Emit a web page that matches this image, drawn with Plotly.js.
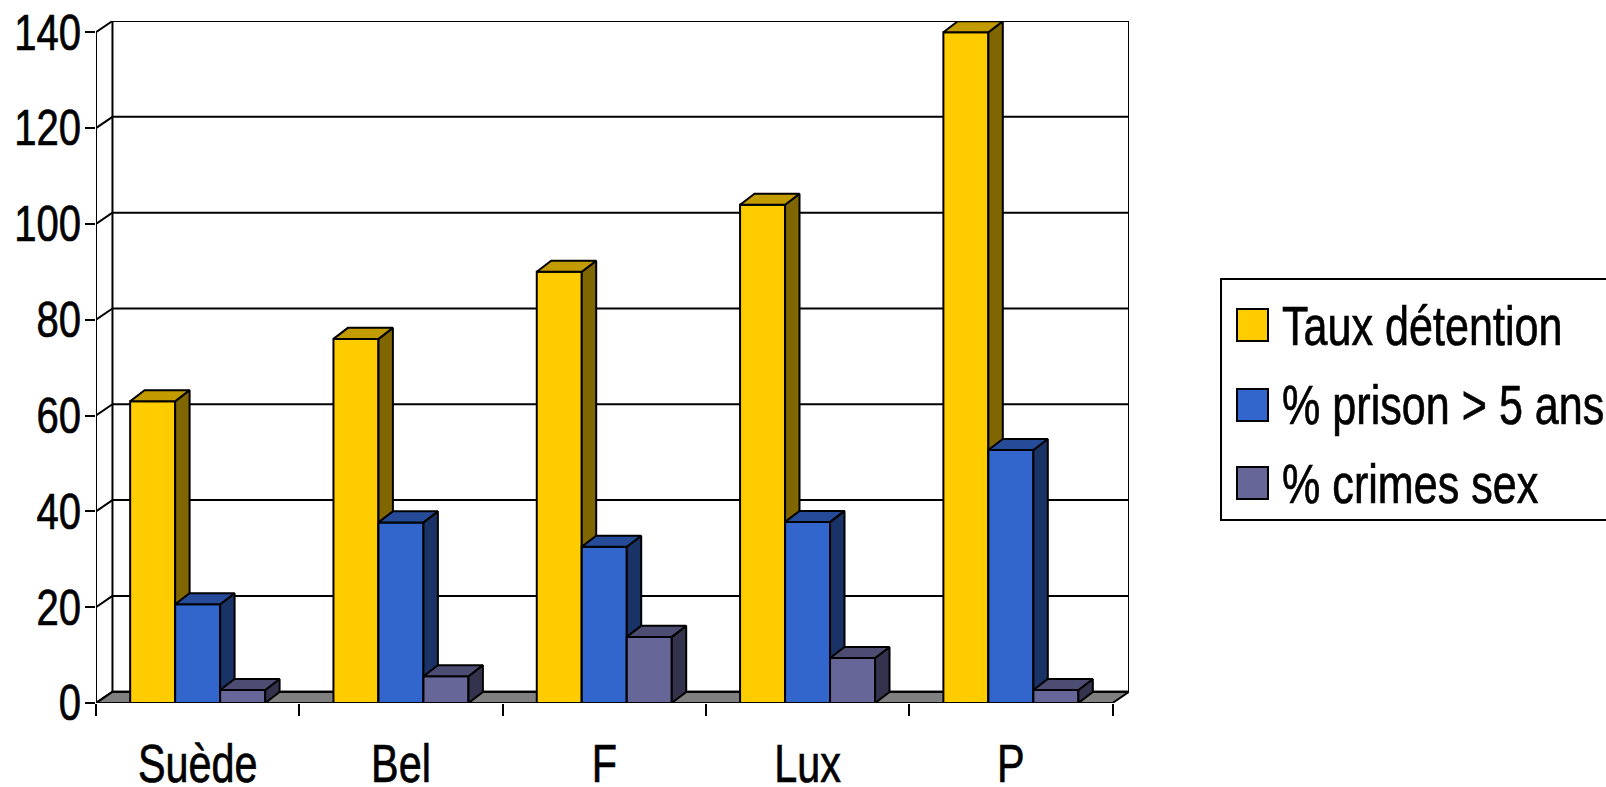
<!DOCTYPE html>
<html>
<head>
<meta charset="utf-8">
<script src="https://cdn.plot.ly/plotly-3.0.1.min.js"></script>
<style>
  html, body { margin: 0; padding: 0; background: #ffffff; }
  #chart { width: 1606px; height: 787px; }
  #chart svg text { stroke: #000000; stroke-width: 0.7px; }
</style>
</head>
<body>
<div id="chart"></div>
<script>
// ---------------- DATA ----------------
const categories = ['Suède', 'Bel', 'F', 'Lux', 'P'];
const seriesNames = ['Taux détention', '% prison > 5 ans', '% crimes sex'];
const tauxDetention = [63, 76, 90, 104, 140];
const prisonPlus5Ans = [20.6, 37.7, 32.6, 37.8, 52.8];
const crimesSex = [2.7, 5.6, 13.8, 9.4, 2.7];
const yTickValues = [0, 20, 40, 60, 80, 100, 120, 140];

// ---------------- STYLE ----------------
const FONT = '"Liberation Sans Narrow", "Liberation Sans", Arimo, sans-serif';
const Y_FONT = 49.5, X_FONT = 53, LEG_FONT = 56;
// horizontal condensing of the text (narrow face)
const SQUEEZE_Y = 0.81, SQUEEZE_X = 0.78, SQUEEZE_LEG = 0.77;
const faceColors = [
  { front: '#FFCC00', top: '#C29B00', side: '#806600' },
  { front: '#3366CC', top: '#264C99', side: '#1A3366' },
  { front: '#666699', top: '#4D4D73', side: '#33334D' }
];
const seriesValues = [tauxDetention, prisonPlus5Ans, crimesSex];

const W = 1606, H = 787;
const M = { l: 96, r: 477, t: 21, b: 84 };
const GROUP = 0.664;
const BAR_W = GROUP / 3;
const BDX = 0.071, BDY = 2.3;
const WDX = 0.081, WDY = 2.35;
const Y_MAX = yTickValues[yTickValues.length - 1];
const xRange = [-0.5, categories.length - 0.5 + WDX];
const yRange = [0, Y_MAX + WDY];
const X_LEFT = -0.5, X_RIGHT = categories.length - 0.5;

const xIdx = categories.map((c, i) => i);
const traces = [];

seriesValues.forEach((vals, k) => {
  const xa = k === 0 ? 'x' : 'x' + (k + 1);
  const ya = k === 0 ? 'y' : 'y' + (k + 1);
  const off = -GROUP / 2 + k * BAR_W;
  traces.push({
    type: 'bar', x: xIdx, y: vals, name: seriesNames[k],
    offset: off, width: BAR_W, xaxis: xa, yaxis: ya,
    marker: { color: faceColors[k].front, line: { color: '#000000', width: 2 } },
    showlegend: false, hoverinfo: 'skip'
  });
  const sx = [], sy = [], tx = [], ty = [];
  vals.forEach((v, i) => {
    const x0 = i + off, x1 = x0 + BAR_W;
    sx.push(x1, x1 + BDX, x1 + BDX, x1, x1, null);
    sy.push(0, BDY, v + BDY, v, 0, null);
    tx.push(x0, x1, x1 + BDX, x0 + BDX, x0, null);
    ty.push(v, v, v + BDY, v + BDY, v, null);
  });
  traces.push({
    type: 'scatter', mode: 'lines', x: sx, y: sy, fill: 'toself',
    fillcolor: faceColors[k].side, line: { color: '#000000', width: 2 },
    xaxis: xa, yaxis: ya, showlegend: false, hoverinfo: 'skip'
  });
  traces.push({
    type: 'scatter', mode: 'lines', x: tx, y: ty, fill: 'toself',
    fillcolor: faceColors[k].top, line: { color: '#000000', width: 2 },
    xaxis: xa, yaxis: ya, showlegend: false, hoverinfo: 'skip'
  });
});

// ---------------- WALLS / FLOOR ----------------
const shapes = [];
const L2 = { color: '#000000', width: 2 };
shapes.push({
  type: 'path', xref: 'x', yref: 'y', layer: 'below',
  path: `M${X_LEFT},0 L${X_RIGHT},0 L${X_RIGHT + WDX},${WDY} L${X_LEFT + WDX},${WDY} Z`,
  fillcolor: '#808080', line: L2
});
yTickValues.forEach(v => {
  shapes.push({ type: 'line', xref: 'x', yref: 'y', layer: 'below',
    x0: X_LEFT + WDX, x1: X_RIGHT + WDX, y0: v + WDY, y1: v + WDY, line: L2 });
  shapes.push({ type: 'line', xref: 'x', yref: 'y', layer: 'below',
    x0: X_LEFT, x1: X_LEFT + WDX, y0: v, y1: v + WDY, line: L2 });
});
shapes.push({ type: 'line', xref: 'x', yref: 'y', layer: 'below',
  x0: X_LEFT + WDX, x1: X_LEFT + WDX, y0: WDY, y1: Y_MAX + WDY, line: L2 });
shapes.push({ type: 'line', xref: 'x', yref: 'y', layer: 'below',
  x0: X_RIGHT + WDX, x1: X_RIGHT + WDX, y0: WDY, y1: Y_MAX + WDY, line: L2 });
shapes.push({ type: 'line', xref: 'x', yref: 'y', layer: 'below',
  x0: X_LEFT, x1: X_LEFT, y0: 0, y1: Y_MAX, line: L2 });

// ---------------- LEGEND ----------------
const PW = W - M.l - M.r, PH = H - M.t - M.b;
const px2x = p => (p - M.l) / PW;
const py2y = p => (H - M.b - p) / PH;
const annotations = [];
shapes.push({ type: 'rect', xref: 'paper', yref: 'paper',
  x0: px2x(1221), x1: px2x(1640), y0: py2y(520), y1: py2y(279),
  fillcolor: 'rgba(0,0,0,0)', line: L2 });
const legendRows = [325, 405, 483];
seriesNames.forEach((name, k) => {
  const cy = legendRows[k];
  shapes.push({ type: 'rect', xref: 'paper', yref: 'paper',
    x0: px2x(1237), x1: px2x(1268), y0: py2y(cy + 16), y1: py2y(cy - 16),
    fillcolor: faceColors[k].front, line: L2 });
  annotations.push({ xref: 'paper', yref: 'paper', x: px2x(1280), y: py2y(cy),
    xanchor: 'left', yanchor: 'middle', align: 'left', text: name, showarrow: false,
    font: { family: FONT, size: LEG_FONT, color: '#000000' } });
});

const hiddenAxis = (ov, rng) => ({ overlaying: ov, range: rng, visible: false, fixedrange: true });

const layout = {
  width: W, height: H,
  margin: M,
  paper_bgcolor: '#ffffff', plot_bgcolor: 'rgba(0,0,0,0)',
  showlegend: false,
  font: { family: FONT, size: Y_FONT, color: '#000000' },
  xaxis: {
    range: xRange, tickmode: 'array', tickvals: xIdx, ticktext: categories,
    ticks: '', showgrid: false, zeroline: false, showline: false,
    ticklabelstandoff: 25, fixedrange: true,
    tickfont: { family: FONT, size: X_FONT, color: '#000000' }
  },
  xaxis2: {
    overlaying: 'x', range: xRange, tickmode: 'array',
    tickvals: categories.map((c, i) => i - 0.5).concat([categories.length - 0.5]),
    ticks: 'outside', ticklen: 12, tickwidth: 2, tickcolor: '#000000',
    showticklabels: false, showgrid: false, zeroline: false, showline: false, fixedrange: true
  },
  xaxis3: hiddenAxis('x', xRange),
  yaxis: {
    range: yRange, tickmode: 'array', tickvals: yTickValues,
    ticks: 'outside', ticklen: 10, tickwidth: 2, tickcolor: '#000000',
    showgrid: false, zeroline: false, showline: false, fixedrange: true,
    ticklabelstandoff: -6,
    tickfont: { family: FONT, size: Y_FONT, color: '#000000' }
  },
  yaxis2: hiddenAxis('y', yRange),
  yaxis3: hiddenAxis('y', yRange),
  shapes: shapes,
  annotations: annotations
};

function condense(nodes, factor) {
  nodes.forEach(t => {
    if (t.getAttribute('textLength')) return;
    const len = t.getComputedTextLength();
    if (len > 0) {
      t.setAttribute('textLength', (len * factor).toFixed(2));
      t.setAttribute('lengthAdjust', 'spacingAndGlyphs');
    }
  });
}

Plotly.newPlot('chart', traces, layout, { staticPlot: true, displayModeBar: false })
  .then(gd => {
    condense(gd.querySelectorAll('g.ytick text'), SQUEEZE_Y);
    condense(gd.querySelectorAll('g.xtick text'), SQUEEZE_X);
    condense(gd.querySelectorAll('g.annotation text'), SQUEEZE_LEG);
  });
</script>
</body>
</html>
